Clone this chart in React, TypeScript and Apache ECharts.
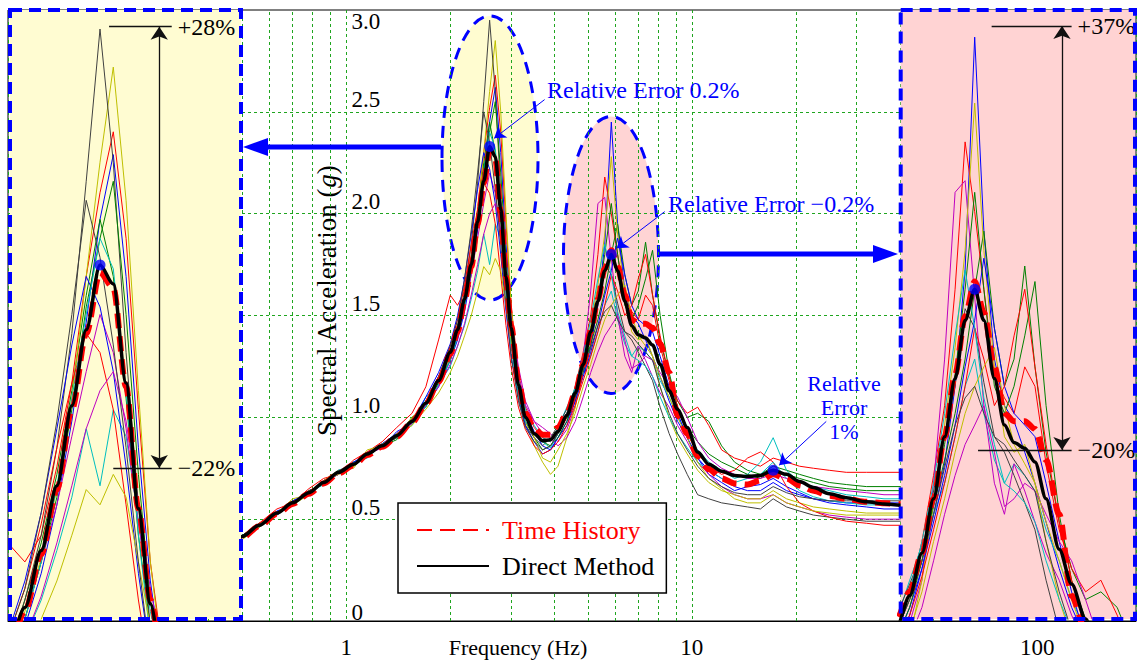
import { useEffect, useRef } from "react";
import * as echarts from "echarts";

const W = 1138;
const H = 664;
const FONT = "'Liberation Serif', 'Times New Roman', serif";
const BLUE = "#0000ff";
const GRID_GREEN = "#1fa51f";

// frequency grid (Hz) shared by every spectrum
const FREQ = [
  0.45, 0.5, 0.56, 0.63, 0.7, 0.78, 0.86, 0.95, 1.05, 1.15, 1.27, 1.4, 1.55, 1.7, 1.85,
  2.0, 2.1, 2.2, 2.3, 2.4, 2.5, 2.6, 2.7, 2.8, 2.9, 3.0,
  3.15, 3.3, 3.5, 3.7, 3.9, 4.1, 4.35, 4.6, 4.85,
  5.1, 5.35, 5.6, 5.85, 6.1, 6.4, 6.7, 7.0, 7.35, 7.7,
  8.1, 8.6, 9.1, 9.7, 10.4, 11.2, 12.2, 13.3, 14.5,
  15.8, 17.2, 18.8, 20.5, 22.5, 25, 28, 32, 36, 41,
];

const DIRECT = [
  0.37, 0.415, 0.47, 0.53, 0.58, 0.63, 0.68, 0.73, 0.77, 0.82, 0.86, 0.91, 0.98, 1.07, 1.18,
  1.32, 1.43, 1.58, 1.75, 1.96, 2.16, 2.33, 2.28, 2.02, 1.69, 1.44,
  1.16, 1.0, 0.92, 0.885, 0.89, 0.93, 1.01, 1.12, 1.26,
  1.42, 1.57, 1.72, 1.8, 1.72, 1.57, 1.45, 1.405, 1.39, 1.355,
  1.26, 1.13, 1.04, 0.95, 0.83, 0.77, 0.735, 0.715, 0.71,
  0.715, 0.74, 0.72, 0.685, 0.655, 0.625, 0.605, 0.585, 0.575, 0.567,
];

const TIME_HISTORY = [
  0.365, 0.41, 0.465, 0.525, 0.575, 0.625, 0.675, 0.725, 0.765, 0.815, 0.855, 0.905, 0.975, 1.065, 1.175,
  1.31, 1.42, 1.57, 1.74, 1.95, 2.15, 2.31, 2.27, 2.01, 1.69, 1.45,
  1.18, 1.02, 0.945, 0.915, 0.915, 0.95, 1.02, 1.12, 1.26,
  1.42, 1.58, 1.73, 1.82, 1.74, 1.6, 1.48, 1.46, 1.46, 1.44,
  1.36, 1.22, 1.01, 0.92, 0.81, 0.745, 0.7, 0.675, 0.67,
  0.69, 0.72, 0.7, 0.665, 0.64, 0.615, 0.6, 0.585, 0.578, 0.572,
];

const REC01 = [
  0.36, 0.41, 0.46, 0.54, 0.57, 0.64, 0.67, 0.74, 0.76, 0.83, 0.85, 0.93, 0.97, 1.06, 1.15,
  1.28, 1.38, 1.52, 1.7, 1.92, 2.18, 2.45, 2.62, 2.3, 1.85, 1.5,
  1.18, 1.02, 0.93, 0.86, 0.84, 0.9, 0.96, 1.08, 1.22,
  1.35, 1.55, 1.85, 2.45, 1.95, 1.62, 1.5, 1.46, 1.38, 1.3,
  1.2, 1.08, 0.98, 0.9, 0.8, 0.72, 0.68, 0.64, 0.66,
  0.67, 0.7, 0.66, 0.63, 0.6, 0.58, 0.57, 0.56, 0.55, 0.55,
];
const REC02 = [
  0.38, 0.42, 0.48, 0.52, 0.59, 0.62, 0.69, 0.72, 0.78, 0.81, 0.87, 0.9, 1.0, 1.05, 1.2,
  1.3, 1.45, 1.6, 1.78, 2.0, 2.25, 2.45, 2.3, 1.98, 1.62, 1.38,
  1.12, 0.98, 0.9, 0.84, 0.86, 0.92, 1.0, 1.1, 1.24,
  1.36, 1.48, 1.62, 1.8, 1.95, 1.7, 1.55, 1.62, 1.86, 1.6,
  1.38, 1.2, 1.08, 1.0, 1.02, 0.98, 0.86, 0.78, 0.74,
  0.72, 0.76, 0.74, 0.72, 0.7, 0.68, 0.67, 0.66, 0.66, 0.66,
];
const REC03 = [
  0.37, 0.4, 0.48, 0.55, 0.58, 0.65, 0.7, 0.72, 0.79, 0.83, 0.88, 0.95, 1.02, 1.15, 1.38,
  1.6, 1.55, 1.62, 1.8, 2.02, 2.3, 2.52, 2.68, 2.4, 1.95, 1.55,
  1.22, 1.05, 0.95, 0.9, 0.88, 0.93, 1.02, 1.15, 1.32,
  1.5, 1.8, 2.18, 2.0, 1.8, 1.58, 1.52, 1.48, 1.6, 1.55,
  1.35, 1.18, 1.08, 1.02, 1.05, 0.96, 0.84, 0.8, 0.78,
  0.76, 0.8, 0.78, 0.76, 0.75, 0.74, 0.73, 0.73, 0.73, 0.73,
];
const REC04 = [
  0.37, 0.42, 0.47, 0.53, 0.57, 0.63, 0.68, 0.72, 0.78, 0.8, 0.87, 0.92, 0.96, 1.1, 1.16,
  1.25, 1.35, 1.45, 1.58, 1.72, 1.9, 1.75, 1.95, 1.88, 1.66, 1.42,
  1.2, 1.04, 0.96, 0.9, 0.88, 0.95, 1.05, 1.14, 1.22,
  1.3, 1.42, 1.55, 1.62, 1.48, 1.36, 1.3, 1.35, 1.32, 1.28,
  1.18, 1.1, 1.0, 0.92, 0.84, 0.78, 0.74, 0.7, 0.72,
  0.78, 0.9, 0.74, 0.68, 0.66, 0.64, 0.62, 0.61, 0.6, 0.6,
];
const REC05 = [
  0.36, 0.41, 0.47, 0.52, 0.58, 0.62, 0.68, 0.73, 0.76, 0.82, 0.85, 0.91, 0.99, 1.08, 1.16,
  1.3, 1.4, 1.55, 1.7, 1.88, 2.05, 2.2, 2.1, 1.9, 1.65, 1.45,
  1.2, 1.06, 0.98, 0.95, 0.92, 0.88, 0.94, 1.05, 1.3,
  1.62, 2.05, 2.08, 1.78, 1.5, 1.3, 1.22, 1.35, 1.28, 1.2,
  1.12, 1.05, 0.96, 0.88, 0.78, 0.72, 0.66, 0.62, 0.6,
  0.6, 0.62, 0.58, 0.56, 0.54, 0.52, 0.51, 0.5, 0.5, 0.5,
];
const REC06 = [
  0.37, 0.42, 0.46, 0.53, 0.6, 0.62, 0.69, 0.74, 0.75, 0.84, 0.86, 0.9, 1.0, 1.06, 1.17,
  1.3, 1.42, 1.56, 1.74, 1.98, 2.3, 2.6, 2.85, 2.5, 2.0, 1.55,
  1.18, 0.98, 0.86, 0.78, 0.72, 0.76, 0.9, 1.05, 1.25,
  1.45, 1.65, 1.9, 2.28, 1.9, 1.6, 1.42, 1.38, 1.4, 1.3,
  1.15, 1.0, 0.9, 0.82, 0.74, 0.68, 0.64, 0.62, 0.6,
  0.6, 0.64, 0.6, 0.58, 0.56, 0.55, 0.54, 0.53, 0.53, 0.53,
];
const REC07 = [
  0.38, 0.42, 0.47, 0.53, 0.58, 0.64, 0.67, 0.73, 0.77, 0.82, 0.86, 0.9, 0.97, 1.08, 1.19,
  1.32, 1.45, 1.62, 1.85, 2.15, 2.55, 2.95, 2.6, 2.1, 1.7, 1.38,
  1.1, 0.96, 0.9, 0.86, 0.9, 0.96, 1.04, 1.12, 1.28,
  1.42, 1.55, 1.75, 1.7, 1.56, 1.42, 1.38, 1.32, 1.25, 1.18,
  1.05, 0.92, 0.82, 0.72, 0.62, 0.6, 0.58, 0.57, 0.56,
  0.55, 0.6, 0.56, 0.54, 0.52, 0.51, 0.5, 0.49, 0.49, 0.49,
];
const REC08 = [
  0.37, 0.41, 0.47, 0.52, 0.59, 0.63, 0.69, 0.72, 0.78, 0.82, 0.87, 0.92, 0.98, 1.1, 1.22,
  1.36, 1.5, 1.68, 1.9, 2.12, 2.3, 2.22, 2.05, 1.8, 1.52, 1.3,
  1.1, 0.96, 0.88, 0.82, 0.84, 0.9, 0.98, 1.08, 1.2,
  1.32, 1.45, 1.6, 1.72, 1.88, 1.7, 1.55, 1.48, 1.45, 1.42,
  1.3, 1.15, 1.02, 0.9, 0.8, 0.74, 0.7, 0.66, 0.64,
  0.64, 0.68, 0.64, 0.62, 0.6, 0.59, 0.58, 0.58, 0.58, 0.58,
];
const REC09 = [
  0.37, 0.42, 0.47, 0.53, 0.57, 0.64, 0.67, 0.73, 0.76, 0.81, 0.86, 0.89, 0.99, 1.06, 1.17,
  1.28, 1.4, 1.55, 1.72, 1.95, 2.22, 2.4, 2.55, 2.2, 1.78, 1.45,
  1.15, 1.0, 0.92, 0.88, 0.86, 0.9, 0.98, 1.1, 1.25,
  1.4, 1.58, 1.8, 2.05, 1.8, 1.55, 1.48, 1.55, 1.68, 1.82,
  1.5, 1.22, 1.05, 0.95, 0.88, 0.82, 0.78, 0.75, 0.72,
  0.7, 0.74, 0.72, 0.7, 0.68, 0.66, 0.65, 0.64, 0.64, 0.64,
];
const REC10 = [
  0.37, 0.41, 0.48, 0.53, 0.58, 0.62, 0.68, 0.73, 0.77, 0.82, 0.86, 0.91, 0.99, 1.08, 1.2,
  1.35, 1.48, 1.65, 1.85, 2.02, 2.15, 2.1, 1.95, 1.7, 1.45, 1.25,
  1.05, 0.94, 0.86, 0.82, 0.84, 0.88, 0.96, 1.06, 1.18,
  1.3, 1.42, 1.55, 1.7, 1.62, 1.5, 1.55, 1.68, 1.8, 1.6,
  1.4, 1.2, 1.05, 0.92, 0.82, 0.76, 0.72, 0.74, 0.8,
  0.83, 0.78, 0.66, 0.58, 0.54, 0.51, 0.49, 0.48, 0.47, 0.47,
];
const REC11 = [
  0.37, 0.42, 0.46, 0.53, 0.58, 0.63, 0.67, 0.74, 0.77, 0.81, 0.87, 0.9, 0.98, 1.05, 1.16,
  1.28, 1.4, 1.55, 1.75, 1.98, 2.2, 2.4, 2.32, 2.0, 1.62, 1.35,
  1.1, 0.98, 0.92, 0.88, 0.85, 0.92, 1.02, 1.15, 1.3,
  1.48, 1.68, 1.85, 1.7, 1.52, 1.4, 1.3, 1.28, 1.25, 1.2,
  1.1, 1.0, 0.92, 0.85, 0.78, 0.74, 0.7, 0.68, 0.7,
  0.72, 0.78, 0.7, 0.64, 0.61, 0.59, 0.58, 0.57, 0.57, 0.57,
];
const REC12 = [
  0.37, 0.41, 0.47, 0.52, 0.58, 0.63, 0.68, 0.72, 0.77, 0.82, 0.85, 0.91, 0.97, 1.06, 1.15,
  1.26, 1.35, 1.46, 1.6, 1.75, 1.9, 2.0, 2.05, 1.92, 1.7, 1.48,
  1.25, 1.08, 0.98, 0.92, 0.9, 0.86, 0.9, 0.98, 1.1,
  1.22, 1.32, 1.4, 1.45, 1.5, 1.38, 1.24, 1.26, 1.3, 1.28,
  1.22, 1.15, 1.1, 1.0, 0.88, 0.8, 0.75, 0.72, 0.7,
  0.7, 0.72, 0.7, 0.68, 0.66, 0.65, 0.64, 0.63, 0.62, 0.62,
];
const REC13 = [
  0.36, 0.4, 0.46, 0.53, 0.57, 0.62, 0.69, 0.72, 0.76, 0.82, 0.86, 0.92, 0.96, 1.04, 1.12,
  1.22, 1.3, 1.4, 1.5, 1.62, 1.74, 1.7, 1.78, 1.72, 1.55, 1.38,
  1.18, 1.02, 0.9, 0.8, 0.78, 0.84, 0.92, 1.02, 1.15,
  1.26, 1.38, 1.48, 1.55, 1.6, 1.65, 1.5, 1.4, 1.35, 1.3,
  1.2, 1.1, 1.0, 0.9, 0.78, 0.7, 0.65, 0.6, 0.58,
  0.58, 0.62, 0.58, 0.56, 0.54, 0.53, 0.52, 0.52, 0.52, 0.52,
];
const REC14 = [
  0.37, 0.42, 0.47, 0.52, 0.58, 0.63, 0.68, 0.73, 0.77, 0.81, 0.86, 0.9, 0.99, 1.07, 1.2,
  1.35, 1.48, 1.68, 1.92, 2.2, 2.5, 2.35, 2.12, 1.85, 1.55, 1.3,
  1.08, 0.95, 0.88, 0.84, 0.86, 0.92, 1.0, 1.1, 1.22,
  1.34, 1.45, 1.52, 1.55, 1.48, 1.42, 1.4, 1.36, 1.32, 1.28,
  1.15, 1.02, 0.92, 0.84, 0.76, 0.7, 0.66, 0.63, 0.62,
  0.62, 0.66, 0.63, 0.61, 0.6, 0.59, 0.59, 0.59, 0.59, 0.59,
];

const RECORDS = [REC01, REC02, REC03, REC04, REC05, REC06, REC07, REC08, REC09, REC10, REC11, REC12, REC13, REC14];
const RECORD_COLORS = ["#0000ff", "#008000", "#ff0000", "#00bfbf", "#bf00bf", "#bfbf00", "#404040"];

// marked peaks (Hz, g)
const PEAKS = [
  [2.6, 2.33],
  [5.85, 1.8],
  [17.2, 0.74],
];
// relative-error pointer arrows: [from, to]
const REL_ERR_ARROWS = [
  [[3.75, 2.56], [2.68, 2.37]],
  [[8.35, 2.01], [6.06, 1.83]],
  [[24.5, 0.98], [17.9, 0.765]],
];

const Y_TICK_LABELS = ["0", "0.5", "1.0", "1.5", "2.0", "2.5", "3.0"];
const MINOR_FREQ = [0.2, 0.3, 0.4, 0.5, 0.6, 0.7, 0.8, 0.9, 2, 3, 4, 5, 6, 7, 8, 9, 20, 30, 40, 50, 60, 70, 80, 90];

// zoomed insets: axis windows and spread annotations
const LEFT_INSET_X = [2.013, 3.882];
const LEFT_INSET_Y = [1.4, 3.0];
const RIGHT_INSET_X = [4.175, 12.15];
const RIGHT_INSET_Y = [0.95, 2.52];
const LEFT_SPREAD = { top: 2.956, bottom: 1.797, topLine: [2.668, 3.188], bottomLine: [2.7, 3.188], arrowF: 3.077, labels: ["+28%", "\u221222%"] };
const RIGHT_SPREAD = { top: 2.479, bottom: 1.386, topLine: [6.32, 9.1], bottomLine: [5.94, 9.1], arrowF: 8.71, labels: ["+37%", "\u221220%"] };

const toPairs = (vals: number[]) => FREQ.map((f, i) => [f, vals[i]]);

function spreadMarkLine(a: any) {
  return {
    silent: true,
    animation: false,
    z: 26,
    symbol: ["none", "none"],
    symbolSize: 13,
    lineStyle: { color: "#111", width: 1.3, type: "solid" },
    label: { show: true, position: "end", distance: 6, color: "#000", fontSize: 24, fontFamily: FONT },
    data: [
      [{ coord: [a.topLine[0], a.top], label: { formatter: a.labels[0] } }, { coord: [a.topLine[1], a.top] }],
      [{ coord: [a.bottomLine[0], a.bottom], label: { formatter: a.labels[1] } }, { coord: [a.bottomLine[1], a.bottom] }],
      [
        { coord: [a.arrowF, a.bottom], symbol: "arrow", label: { show: false } },
        { coord: [a.arrowF, a.top], symbol: "arrow" },
      ],
    ],
  };
}

function panelSeries(idx: number, zBase: number, peaks: number[][], markLine: any) {
  const out: any[] = [];
  RECORDS.forEach((rec, k) => {
    out.push({
      type: "line",
      name: `rec${k}-${idx}`,
      xAxisIndex: idx,
      yAxisIndex: idx,
      data: toPairs(rec),
      symbol: "none",
      silent: true,
      z: zBase,
      color: RECORD_COLORS[k % RECORD_COLORS.length],
      lineStyle: { color: RECORD_COLORS[k % RECORD_COLORS.length], width: 1 },
    });
  });
  out.push({
    type: "line",
    name: idx === 0 ? "Time History" : `th-${idx}`,
    xAxisIndex: idx,
    yAxisIndex: idx,
    data: toPairs(TIME_HISTORY),
    symbol: "none",
    smooth: 0.3,
    smoothMonotone: "x",
    silent: true,
    z: zBase + 1,
    color: "#ff0000",
    lineStyle: { color: "#ff0000", width: 6, type: [15, 8] },
  });
  out.push({
    type: "line",
    name: idx === 0 ? "Direct Method" : `dm-${idx}`,
    xAxisIndex: idx,
    yAxisIndex: idx,
    data: toPairs(DIRECT),
    symbol: "none",
    smooth: 0.3,
    smoothMonotone: "x",
    silent: true,
    z: zBase + 2,
    color: "#000",
    lineStyle: { color: "#000", width: 3.5 },
    markLine: idx === 0 ? undefined : markLine,
  });
  out.push({
    type: "scatter",
    name: `peaks-${idx}`,
    xAxisIndex: idx,
    yAxisIndex: idx,
    data: peaks,
    symbolSize: 11,
    silent: true,
    z: zBase + 3,
    itemStyle: { color: BLUE },
    markLine: idx === 0 ? markLine : undefined,
  });
  return out;
}

function buildOption(): any {
  const hiddenX = (min: number, max: number, gi: number) => ({
    type: "log", logBase: 10, gridIndex: gi, min, max, show: false,
    axisLine: { show: false }, axisTick: { show: false }, axisLabel: { show: false }, splitLine: { show: false },
  });
  const hiddenY = (min: number, max: number, gi: number) => ({
    type: "value", gridIndex: gi, min, max, show: false,
    axisLine: { show: false }, axisTick: { show: false }, axisLabel: { show: false }, splitLine: { show: false },
  });

  const mainArrows = {
    silent: true,
    animation: false,
    z: 6,
    symbol: ["none", "arrow"],
    symbolSize: 11,
    lineStyle: { color: BLUE, width: 1, type: "solid" },
    label: { show: false },
    data: REL_ERR_ARROWS.map(([a, b]) => [{ coord: a }, { coord: b }]),
  };

  const series: any[] = [
    {
      type: "line",
      name: "minor-grid",
      xAxisIndex: 0,
      yAxisIndex: 0,
      data: [[1, 0]],
      symbol: "none",
      silent: true,
      z: 1,
      lineStyle: { opacity: 0 },
      markLine: {
        silent: true,
        animation: false,
        z: 1,
        symbol: ["none", "none"],
        label: { show: false },
        lineStyle: { color: GRID_GREEN, width: 1, type: [3, 3] },
        data: MINOR_FREQ.map((f) => ({ xAxis: f })),
      },
    },
    ...panelSeries(0, 2, PEAKS, mainArrows),
    ...panelSeries(1, 20, [PEAKS[0]], spreadMarkLine(LEFT_SPREAD)),
    ...panelSeries(2, 20, [PEAKS[1]], spreadMarkLine(RIGHT_SPREAD)),
  ];

  const yLabel = (v: number) => {
    const t = Y_TICK_LABELS[Math.round(v / 0.5)] ?? "";
    if (v >= 3) return `{t|${t}}`;
    if (v <= 0) return `{z|${t}}`;
    return `{a|${t}}`;
  };

  const text = (x: number, y: number, t: string, align: string, size: number, color: string) => ({
    type: "text",
    x,
    y,
    z: 30,
    silent: true,
    style: {
      text: t,
      fill: color,
      font: `${size}px ${FONT}`,
      textAlign: align,
      textVerticalAlign: "middle",
    },
  });

  return {
    animation: false,
    backgroundColor: "#fff",
    textStyle: { fontFamily: FONT },
    grid: [
      { left: 8, right: 2, top: 10, bottom: 43, outerBoundsMode: "none", containLabel: false, show: true, borderColor: "#000", borderWidth: 1, backgroundColor: "transparent" },
      { left: 10, top: 10, width: 231, height: 609, outerBoundsMode: "none", containLabel: false },
      { left: 900.7, top: 10, width: 234.3, height: 609, outerBoundsMode: "none", containLabel: false },
    ],
    xAxis: [
      {
        type: "log",
        logBase: 10,
        gridIndex: 0,
        min: 0.105,
        max: 193,
        name: "Frequency (Hz)",
        nameLocation: "middle",
        nameGap: 15,
        nameMoveOverlap: false,
        nameTextStyle: { fontSize: 22, color: "#000", fontFamily: FONT, padding: [0, 108, 0, 0] },
        axisLine: { show: true, lineStyle: { color: "#000", width: 1 } },
        axisTick: { show: false },
        axisLabel: { fontSize: 23, color: "#000", fontFamily: FONT, margin: 15, showMinLabel: false, showMaxLabel: false },
        splitLine: { show: true, lineStyle: { color: GRID_GREEN, width: 1, type: [3, 3] } },
      },
      hiddenX(LEFT_INSET_X[0], LEFT_INSET_X[1], 1),
      hiddenX(RIGHT_INSET_X[0], RIGHT_INSET_X[1], 2),
    ],
    yAxis: [
      {
        type: "value",
        gridIndex: 0,
        min: 0,
        max: 3,
        interval: 0.5,
        position: "left",
        offset: -338.5,
        name: "Spectral Acceleration ({i|g})",
        nameLocation: "middle",
        nameGap: 6,
        nameMoveOverlap: false,
        nameTextStyle: {
          fontSize: 27,
          color: "#000",
          fontFamily: FONT,
          padding: [0, 0, 0, 29],
          rich: { i: { fontSize: 27, fontStyle: "italic", fontFamily: FONT, color: "#000" } },
        },
        axisLine: { show: false },
        axisTick: { show: false },
        axisLabel: {
          inside: true,
          margin: 5,
          color: "#000",
          fontSize: 23,
          fontFamily: FONT,
          formatter: yLabel,
          rich: {
            a: { fontSize: 23, fontFamily: FONT, color: "#000", padding: [0, 0, 24, 0] },
            t: { fontSize: 23, fontFamily: FONT, color: "#000", padding: [22, 0, 0, 0] },
            z: { fontSize: 23, fontFamily: FONT, color: "#000", padding: [0, 0, 18, 0] },
          },
        },
        splitLine: { show: true, showMinLine: false, showMaxLine: false, lineStyle: { color: GRID_GREEN, width: 1, type: [3, 3] } },
      },
      hiddenY(LEFT_INSET_Y[0], LEFT_INSET_Y[1], 1),
      hiddenY(RIGHT_INSET_Y[0], RIGHT_INSET_Y[1], 2),
    ],
    legend: {
      data: [
        { name: "Time History", textStyle: { color: "#ff0000" } },
        { name: "Direct Method", textStyle: { color: "#000" } },
      ],
      orient: "vertical",
      left: 398,
      top: 503,
      itemWidth: 72,
      itemHeight: 14,
      itemGap: 10,
      padding: [14, 12, 14, 18],
      borderColor: "#000",
      borderWidth: 1.5,
      backgroundColor: "#fff",
      selectedMode: false,
      itemStyle: { color: "rgba(0,0,0,0)", borderWidth: 0 },
      textStyle: { fontSize: 26, fontFamily: FONT, padding: [0, 0, 0, 8] },
      z: 8,
    },
    graphic: [
      { type: "ellipse", z: -1, silent: true, shape: { cx: 490, cy: 158, rx: 48, ry: 142 }, style: { fill: "rgba(255,251,200,0.85)", stroke: BLUE, lineWidth: 3, lineDash: [12, 8] } },
      { type: "ellipse", z: -1, silent: true, shape: { cx: 611, cy: 255, rx: 47.5, ry: 138.5 }, style: { fill: "rgba(255,205,205,0.85)", stroke: BLUE, lineWidth: 3, lineDash: [12, 8] } },
      { type: "line", z: 6, silent: true, shape: { x1: 441, y1: 147, x2: 262, y2: 147 }, style: { stroke: BLUE, lineWidth: 5 } },
      { type: "polygon", z: 6, silent: true, shape: { points: [[243, 147], [268, 138], [268, 156]] }, style: { fill: BLUE } },
      { type: "line", z: 6, silent: true, shape: { x1: 660, y1: 254, x2: 878, y2: 254 }, style: { stroke: BLUE, lineWidth: 5 } },
      { type: "polygon", z: 6, silent: true, shape: { points: [[898, 254], [873, 245], [873, 263]] }, style: { fill: BLUE } },
      { type: "rect", z: 10, silent: true, shape: { x: 10, y: 10, width: 231, height: 609 }, style: { fill: "#fffcd2" } },
      { type: "rect", z: 10, silent: true, shape: { x: 900.7, y: 10, width: 234.3, height: 609 }, style: { fill: "#ffd3d3" } },
      { type: "rect", z: 30, silent: true, shape: { x: 10, y: 10, width: 231, height: 609 }, style: { fill: "none", stroke: BLUE, lineWidth: 4, lineDash: [12, 7] } },
      { type: "rect", z: 30, silent: true, shape: { x: 900.7, y: 10, width: 234.3, height: 609 }, style: { fill: "none", stroke: BLUE, lineWidth: 4, lineDash: [12, 7] } },
      text(547, 90, "Relative Error 0.2%", "left", 24, BLUE),
      text(668, 204, "Relative Error \u22120.2%", "left", 24, BLUE),
      text(844, 383, "Relative", "center", 22, BLUE),
      text(844, 407, "Error", "center", 22, BLUE),
      text(844, 431, "1%", "center", 22, BLUE),
    ],
    series,
  };
}

export default function App() {
  const ref = useRef<HTMLDivElement>(null);
  useEffect(() => {
    if (!ref.current) return;
    const chart = echarts.init(ref.current, null, { renderer: "svg", width: W, height: H });
    chart.setOption(buildOption());
    return () => chart.dispose();
  }, []);
  return <div ref={ref} style={{ position: "fixed", left: 0, top: 0, width: W, height: H, background: "#fff" }} />;
}
